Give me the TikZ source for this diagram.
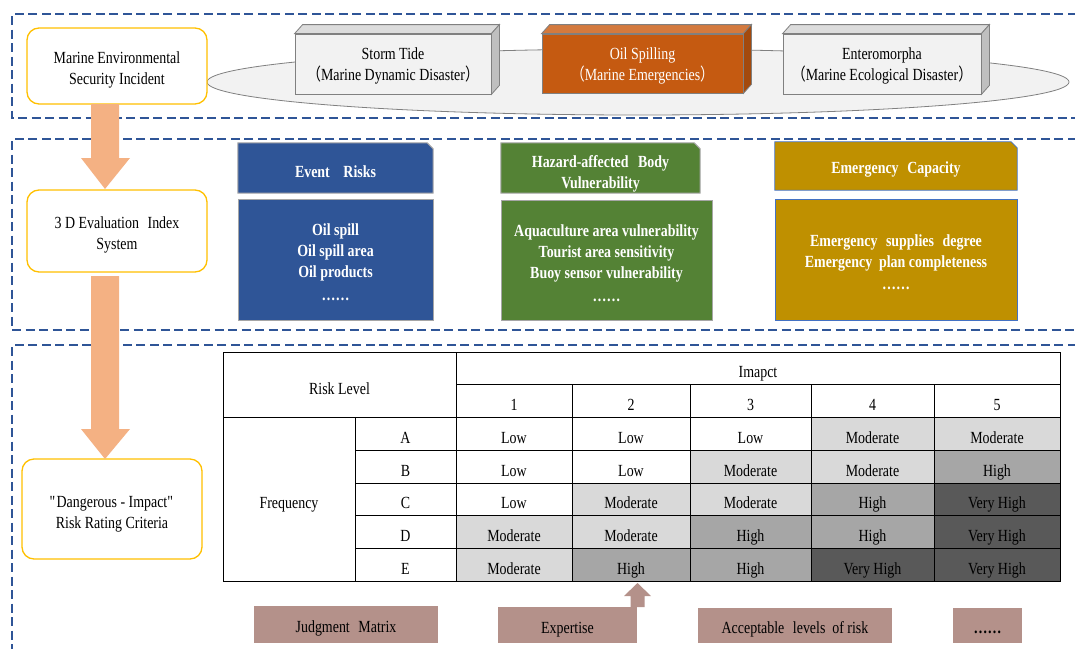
\documentclass[tikz,border=0pt]{standalone}
\usepackage{fontspec}
\setmainfont{Liberation Serif}[FakeStretch=0.82]
\newfontfamily\cjk{Noto Sans CJK SC}[FakeStretch=0.82]
\usetikzlibrary{shapes.geometric,calc}
\definecolor{frameblue}{HTML}{2F5597}
\definecolor{boxyellow}{HTML}{FFC000}
\definecolor{arroworange}{HTML}{F4B183}
\definecolor{ellfill}{HTML}{F2F2F2}
\definecolor{ellline}{HTML}{808080}
\definecolor{cubefront}{HTML}{F2F2F2}
\definecolor{cubetop}{HTML}{DCDCDC}
\definecolor{cubeside}{HTML}{BFBFBF}
\definecolor{oilfront}{HTML}{C55A11}
\definecolor{oiltop}{HTML}{D47A3E}
\definecolor{oilside}{HTML}{A34A0D}
\definecolor{evblue}{HTML}{2F5597}
\definecolor{hzgreen}{HTML}{548235}
\definecolor{emgold}{HTML}{BF9000}
\definecolor{bordergray}{HTML}{A6A6A6}
\definecolor{borderblue}{HTML}{4472C4}
\definecolor{modgray}{HTML}{D9D9D9}
\definecolor{highgray}{HTML}{A6A6A6}
\definecolor{vhgray}{HTML}{595959}
\definecolor{rosy}{HTML}{B4918A}
\pgfdeclarelayer{bg}
\pgfsetlayers{bg,main}
\newcommand\lowr[1]{\rule{0pt}{#1pt}}
\newcommand\cellstrut{\rule[-4pt]{0pt}{27pt}}
\newcommand\tcl[7]{\node[cell, fill=#6, minimum width={#3-#2}, minimum height={#5-#4}] (#1) at ({(#2+#3)/2},{(#4+#5)/2}) {\cellstrut #7};}
\begin{document}
\begin{tikzpicture}[x=1pt,y=-1pt,
  every node/.style={font=\fontsize{17}{21}\selectfont, align=center, inner sep=0pt, text=black},
  frame/.style={draw=frameblue, line width=2.5pt, dash pattern=on 9pt off 4.5pt},
  rbox/.style={draw=boxyellow, line width=1.3pt, rounded corners=12pt, fill=white},
  bigarrow/.style={fill=arroworange},
  cubeline/.style={draw=ellline, line width=0.8pt},
  hdr/.style={font=\fontsize{17}{21}\selectfont\bfseries, text=white},
  cell/.style={draw=black, line width=0.8pt},
  rosybox/.style={fill=rosy}
]
\useasboundingbox (0,0) rectangle (1075,648);
\clip (0,0) rectangle (1075,648);

% dashed frames
\draw[frame] (1090,14) -- (12,14) -- (12,118) -- (1090,118);
\draw[frame] (1090,139) -- (12,139) -- (12,330) -- (1090,330);
\draw[frame] (1090,345) -- (12,345) -- (12,660);

% ellipse and cuboids
\node[ellipse, draw=ellline, line width=0.8pt, fill=ellfill, minimum width=862, minimum height=66] (ell) at (638,82) {};

\node[cubeline, fill=cubefront, minimum width=196, minimum height=60] (storm) at (393,64) {\lowr{16}Storm Tide\\{\cjk （}Marine Dynamic Disaster{\cjk ）}};
\draw[cubeline, fill=cubetop] (storm.north west) -- ++(8,-9) -- ($(storm.north east)+(8,-9)$) -- (storm.north east) -- cycle;
\draw[cubeline, fill=cubeside] (storm.north east) -- ++(8,-9) -- ($(storm.south east)+(8,-9)$) -- (storm.south east) -- cycle;

\node[cubeline, fill=oilfront, minimum width=201, minimum height=59, text=white] (oil) at (642.5,63.5) {\lowr{16}Oil Spilling\\{\cjk （}Marine Emergencies{\cjk ）}};
\draw[cubeline, fill=oiltop] (oil.north west) -- ++(8,-9) -- ($(oil.north east)+(8,-9)$) -- (oil.north east) -- cycle;
\draw[cubeline, fill=oilside] (oil.north east) -- ++(8,-9) -- ($(oil.south east)+(8,-9)$) -- (oil.south east) -- cycle;

\node[cubeline, fill=cubefront, minimum width=198, minimum height=60] (ent) at (882,64) {\lowr{16}Enteromorpha\\{\cjk （}Marine Ecological Disaster{\cjk ）}};
\draw[cubeline, fill=cubetop] (ent.north west) -- ++(8,-9) -- ($(ent.north east)+(8,-9)$) -- (ent.north east) -- cycle;
\draw[cubeline, fill=cubeside] (ent.north east) -- ++(8,-9) -- ($(ent.south east)+(8,-9)$) -- (ent.south east) -- cycle;

% left rounded boxes
\node[rbox, minimum width=180, minimum height=76] (b1) at (117,66) {\lowr{19.5}Marine Environmental\\Security Incident};
\node[rbox, minimum width=180, minimum height=82] (b2) at (117,231) {\lowr{19}3 D Evaluation\hspace{0.3em} Index\\System};
\node[rbox, minimum width=180, minimum height=100] (b3) at (112,509) {\lowr{21.5}\textquotedbl Dangerous - Impact\textquotedbl\\Risk Rating Criteria};

% big arrows
\coordinate (a1top) at (105,104);
\coordinate (a1tip) at (105,189);
\fill[bigarrow] ($(a1top)+(-14,0)$) -- ($(a1top)+(14,0)$) -- ($(a1tip)+(14,-31)$) -- ($(a1tip)+(25,-31)$) -- (a1tip) -- ($(a1tip)+(-24,-31)$) -- ($(a1tip)+(-14,-31)$) -- cycle;
\coordinate (a2top) at (105,276);
\coordinate (a2tip) at (105,459);
\fill[bigarrow] ($(a2top)+(-14,0)$) -- ($(a2top)+(14,0)$) -- ($(a2tip)+(14,-30)$) -- ($(a2tip)+(25,-30)$) -- (a2tip) -- ($(a2tip)+(-24,-30)$) -- ($(a2tip)+(-14,-30)$) -- cycle;

% section 2 headers
\node[hdr, minimum width=195, minimum height=50] (evh) at (335.5,168) {\lowr{19.5}Event\hspace{0.8em}Risks};
\node[hdr, minimum width=199, minimum height=50] (hzh) at (600.5,168) {\lowr{24}Hazard-affected\hspace{0.35em} Body\\Vulnerability};
\node[hdr, minimum width=242, minimum height=48] (emh) at (896,166) {\lowr{19.5}Emergency\hspace{0.3em} Capacity};
\begin{pgfonlayer}{bg}
\draw[fill=evblue, draw=bordergray, line width=1pt] (evh.north west) -- ($(evh.north east)+(-6,0)$) -- ($(evh.north east)+(0,6)$) -- (evh.south east) -- (evh.south west) -- cycle;
\draw[fill=hzgreen, draw=bordergray, line width=1pt] (hzh.north west) -- ($(hzh.north east)+(-6,0)$) -- ($(hzh.north east)+(0,6)$) -- (hzh.south east) -- (hzh.south west) -- cycle;
\draw[fill=emgold, draw=borderblue, line width=0.8pt] (emh.north west) -- ($(emh.north east)+(-6,0)$) -- ($(emh.north east)+(0,6)$) -- (emh.south east) -- (emh.south west) -- cycle;
\end{pgfonlayer}

% section 2 bodies
\node[hdr, fill=evblue, draw=bordergray, line width=1pt, minimum width=195, minimum height=121] (evb) at (335.5,259.5) {\lowr{18}Oil spill\\Oil spill area\\Oil products\\[2pt]……};
\node[hdr, fill=hzgreen, draw=bordergray, line width=1pt, minimum width=211, minimum height=120] (hzb) at (606.5,260) {\lowr{18}Aquaculture area vulnerability\\Tourist area sensitivity\\Buoy sensor vulnerability\\[2pt]……};
\node[hdr, fill=emgold, draw=borderblue, line width=0.8pt, minimum width=242, minimum height=121] (emb) at (896,259.5) {\lowr{17.5}Emergency\hspace{0.3em} supplies\hspace{0.3em} degree\\Emergency\hspace{0.2em} plan completeness\\[1pt]……};

% table header
\tcl{rl}{223}{456}{352}{417}{white}{Risk Level}
\tcl{imp}{456}{1060}{352}{384}{white}{Imapct}
\tcl{n1}{456}{572}{384}{417}{white}{1}
\tcl{n2}{572}{690}{384}{417}{white}{2}
\tcl{n3}{690}{811}{384}{417}{white}{3}
\tcl{n4}{811}{934}{384}{417}{white}{4}
\tcl{n5}{934}{1060}{384}{417}{white}{5}
\tcl{freq}{223}{355}{417}{581}{white}{Frequency}
\tcl{lA}{355}{456}{417}{450}{white}{A}
\tcl{lB}{355}{456}{450}{483}{white}{B}
\tcl{lC}{355}{456}{483}{515}{white}{C}
\tcl{lD}{355}{456}{515}{548}{white}{D}
\tcl{lE}{355}{456}{548}{581}{white}{E}
% row A
\tcl{A1}{456}{572}{417}{450}{white}{Low}
\tcl{A2}{572}{690}{417}{450}{white}{Low}
\tcl{A3}{690}{811}{417}{450}{white}{Low}
\tcl{A4}{811}{934}{417}{450}{modgray}{Moderate}
\tcl{A5}{934}{1060}{417}{450}{modgray}{Moderate}
% row B
\tcl{B1}{456}{572}{450}{483}{white}{Low}
\tcl{B2}{572}{690}{450}{483}{white}{Low}
\tcl{B3}{690}{811}{450}{483}{modgray}{Moderate}
\tcl{B4}{811}{934}{450}{483}{modgray}{Moderate}
\tcl{B5}{934}{1060}{450}{483}{highgray}{High}
% row C
\tcl{C1}{456}{572}{483}{515}{white}{Low}
\tcl{C2}{572}{690}{483}{515}{modgray}{Moderate}
\tcl{C3}{690}{811}{483}{515}{modgray}{Moderate}
\tcl{C4}{811}{934}{483}{515}{highgray}{High}
\tcl{C5}{934}{1060}{483}{515}{vhgray}{Very High}
% row D
\tcl{D1}{456}{572}{515}{548}{modgray}{Moderate}
\tcl{D2}{572}{690}{515}{548}{modgray}{Moderate}
\tcl{D3}{690}{811}{515}{548}{highgray}{High}
\tcl{D4}{811}{934}{515}{548}{highgray}{High}
\tcl{D5}{934}{1060}{515}{548}{vhgray}{Very High}
% row E
\tcl{E1}{456}{572}{548}{581}{modgray}{Moderate}
\tcl{E2}{572}{690}{548}{581}{highgray}{High}
\tcl{E3}{690}{811}{548}{581}{highgray}{High}
\tcl{E4}{811}{934}{548}{581}{vhgray}{Very High}
\tcl{E5}{934}{1060}{548}{581}{vhgray}{Very High}

% bottom boxes
\node[rosybox, minimum width=184, minimum height=37] (jm) at (346,624.5) {\lowr{20}Judgment\hspace{0.3em} Matrix};
\node[rosybox, minimum width=139, minimum height=36] (ex) at (567.5,625) {\lowr{20}Expertise};
\node[rosybox, minimum width=194, minimum height=35] (al) at (795,625.5) {\lowr{20}Acceptable\hspace{0.3em} levels\hspace{0.2em} of risk};
\node[rosybox, minimum width=69, minimum height=35, font=\fontsize{17}{21}\selectfont\bfseries] (dots) at (987.5,625.5) {\lowr{17}……};

% small up arrow
\coordinate (uptip) at (637.5,583);
\coordinate (upbase) at (637.5,607);
\fill[rosy] (uptip) -- ($(uptip)+(13.5,13)$) -- ($(uptip)+(7,13)$) -- ($(upbase)+(7,0)$) -- ($(upbase)+(-7,0)$) -- ($(uptip)+(-7,13)$) -- ($(uptip)+(-13.5,13)$) -- cycle;
\end{tikzpicture}
\end{document}
